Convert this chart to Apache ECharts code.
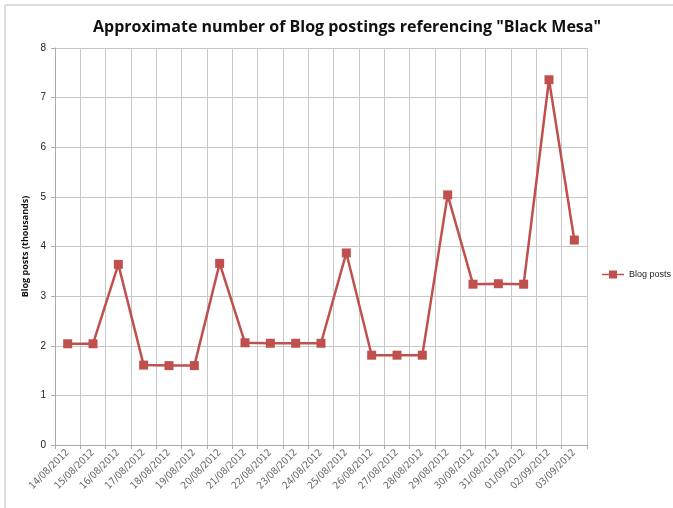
<!DOCTYPE html>
<html><head><meta charset="utf-8">
<script src="https://cdn.jsdelivr.net/npm/echarts@6/dist/echarts.min.js"></script>
<style>html,body{margin:0;padding:0;background:#fff}#c{width:673px;height:508px}</style>
</head><body><div id="c"></div>
<script>
const categories = ["14/08/2012","15/08/2012","16/08/2012","17/08/2012","18/08/2012","19/08/2012","20/08/2012","21/08/2012","22/08/2012","23/08/2012","24/08/2012","25/08/2012","26/08/2012","27/08/2012","28/08/2012","29/08/2012","30/08/2012","31/08/2012","01/09/2012","02/09/2012","03/09/2012"];
const blogPosts = [2.04,2.04,3.64,1.61,1.60,1.60,3.66,2.06,2.05,2.05,2.05,3.87,1.81,1.81,1.81,5.04,3.24,3.25,3.24,7.36,4.13];
const seriesName = "Blog posts";
const chart = echarts.init(document.getElementById('c'));
chart.setOption({
  animation:false,
  graphic:[{type:'rect',shape:{x:5,y:5,width:680,height:520},style:{fill:'none',stroke:'#bdbdbd',lineWidth:1}}],
  title:{text:'Approximate number of Blog postings referencing "Black Mesa"',left:342,textAlign:'center',top:14,
    textStyle:{fontFamily:'Open Sans',fontWeight:'bold',fontSize:16,color:'#111'}},
  legend:{data:[{name:seriesName,icon:'path://M0,4.2L7,4.2L7,1L15,1L15,4.2L22,4.2L22,5.8L15,5.8L15,9L7,9L7,5.8L0,5.8Z'}],
    orient:'vertical',left:602,top:270,itemWidth:22,itemHeight:10,padding:0,
    textStyle:{fontSize:9,color:'#222',fontFamily:'Liberation Sans'}},
  grid:{left:55,right:86,top:48,bottom:63,containLabel:false},
  xAxis:{type:'category',data:categories,boundaryGap:true,
    axisLine:{lineStyle:{color:'#aaa'}},axisTick:{show:true,alignWithLabel:false,length:4,lineStyle:{color:'#aaa'}},
    splitLine:{show:true,lineStyle:{color:'#c8c8c8'}},
    axisLabel:{rotate:45,fontSize:10,color:'#666',margin:6,interval:0,fontFamily:'DejaVu Sans Condensed'}},
  yAxis:{type:'value',min:0,max:8,interval:1,
    name:'Blog posts (thousands)',nameLocation:'middle',nameGap:18,nameRotate:90,
    nameTextStyle:{fontSize:9,fontWeight:'bold',color:'#111',fontFamily:'Open Sans'},
    axisLine:{show:true,lineStyle:{color:'#aaa'}},axisTick:{show:true,length:4,lineStyle:{color:'#aaa'}},
    splitLine:{lineStyle:{color:'#c8c8c8'}},
    axisLabel:{fontSize:10,color:'#222',margin:9}},
  series:[{name:seriesName,type:'line',data:blogPosts,symbol:'rect',symbolSize:9,
    lineStyle:{color:'#c0504d',width:2.5},itemStyle:{color:'#c0504d'}}]
});
</script></body></html>
